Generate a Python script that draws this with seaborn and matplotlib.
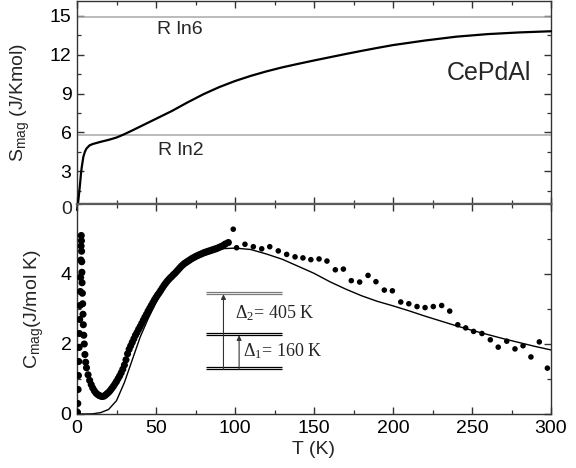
import numpy as np
import pandas as pd
import matplotlib
matplotlib.use("Agg")
import matplotlib.pyplot as plt
import seaborn as sns
from matplotlib.ticker import MultipleLocator
from matplotlib.transforms import blended_transform_factory

# ---------------- data ----------------
# magnetic entropy S_mag(T)
T_S = [0, 0.5, 1, 1.5, 2, 2.5, 3, 4, 5, 6, 8, 10, 15, 20, 25, 30, 35, 40, 45, 50,
       55, 60, 70, 80, 90, 100, 110, 120, 130, 140, 150, 160, 170, 180, 190, 200,
       220, 240, 260, 280, 300]
S_mag = [0, 0.4, 0.9, 1.5, 2.1, 2.8, 3.3, 4.1, 4.5, 4.75, 5.0, 5.1, 5.27, 5.42, 5.6,
         5.86, 6.15, 6.45, 6.75, 7.05, 7.35, 7.65, 8.32, 8.95, 9.5, 9.97, 10.37,
         10.72, 11.03, 11.3, 11.56, 11.81, 12.06, 12.3, 12.53, 12.75, 13.1, 13.4,
         13.6, 13.73, 13.82]

# magnetic specific heat, dense low-T measurement
T_C_dense = [0.3, 0.5, 0.7, 0.9, 1.1, 1.3, 1.5, 1.7, 1.9, 2.1, 2.3, 2.5, 2.6, 2.7,
             2.8, 2.9, 3.0, 3.1, 3.2, 3.4, 3.6, 3.8, 4.0, 4.3, 4.6, 5.0, 5.5, 6, 7,
             8, 9, 10, 11, 12, 13, 14, 15, 16, 17, 18, 19, 20, 21, 22, 23, 24, 25,
             26, 27, 28, 29, 30, 31, 32, 33, 34, 35, 36, 37, 38, 39, 40, 41, 42, 43,
             44, 45, 46, 47, 48, 49, 50, 51, 52, 53, 54, 55, 56, 57, 58, 59, 60, 61,
             62, 63, 64, 65, 66, 67, 68, 69, 70, 71, 72, 73, 74, 75, 76, 77, 78, 79,
             80, 81, 82, 83, 84, 85, 86, 87, 88, 89, 90, 91, 92, 93, 94, 95.8]
C_dense = [0.05, 0.3, 0.7, 1.1, 1.5, 1.9, 2.3, 2.7, 3.1, 3.5, 3.9, 4.4, 4.8, 5.1,
           4.95, 4.65, 4.35, 4.05, 3.75, 3.45, 3.15, 2.85, 2.55, 2.25, 2.0, 1.7, 1.48,
           1.32, 1.12, 0.96, 0.84, 0.74, 0.66, 0.6, 0.56, 0.53, 0.51, 0.5, 0.51, 0.54,
           0.58, 0.62, 0.67, 0.73, 0.79, 0.86, 0.93, 1.01, 1.09, 1.18, 1.28, 1.4, 1.55,
           1.72, 1.85, 1.95, 2.05, 2.15, 2.25, 2.33, 2.42, 2.5, 2.59, 2.68, 2.77, 2.85,
           2.94, 3.02, 3.1, 3.18, 3.26, 3.33, 3.4, 3.46, 3.53, 3.6, 3.67, 3.73, 3.79,
           3.84, 3.89, 3.93, 3.98, 4.02, 4.07, 4.12, 4.17, 4.22, 4.26, 4.3, 4.33, 4.36,
           4.39, 4.42, 4.45, 4.47, 4.5, 4.52, 4.54, 4.56, 4.58, 4.6, 4.62, 4.63, 4.65,
           4.66, 4.68, 4.69, 4.71, 4.72, 4.74, 4.76, 4.78, 4.8, 4.83, 4.86, 4.9]

# magnetic specific heat, high-T points
T_C_sparse = [98.9, 101, 106.3, 111.6, 116.9, 122, 127.4, 132.7, 138, 143, 148,
              153.2, 158.2, 163.5, 168.6, 173.6, 178.9, 184.2, 189.2, 194.5, 199.6,
              204.9, 210, 215.2, 220.3, 225.5, 230.8, 235.9, 241, 246, 251, 256.3,
              261.6, 266.6, 272, 277.2, 282.3, 287.3, 292.6, 297.7]
C_sparse = [5.28, 4.75, 4.85, 4.78, 4.72, 4.78, 4.66, 4.56, 4.49, 4.46, 4.41, 4.43,
            4.37, 4.12, 4.14, 3.81, 3.77, 3.96, 3.78, 3.54, 3.52, 3.2, 3.15, 3.07,
            3.04, 3.07, 3.1, 2.94, 2.55, 2.46, 2.36, 2.3, 2.12, 1.91, 2.08, 1.86,
            1.95, 1.63, 2.06, 1.31]

# crystal-field (Schottky) curve
T_fit = [0, 5, 10, 15, 20, 25, 30, 35, 40, 45, 50, 55, 60, 65, 70, 80, 90, 100,
         110, 120, 130, 140, 150, 160, 170, 180, 190, 200, 210, 220, 230, 240, 250,
         260, 270, 280, 290, 300]
C_fit = [0, 0, 0.005, 0.04, 0.13, 0.38, 0.9, 1.55, 2.2, 2.72, 3.18, 3.58, 3.92,
         4.18, 4.38, 4.6, 4.72, 4.74, 4.7, 4.57, 4.42, 4.22, 4.02, 3.78, 3.57, 3.38,
         3.22, 3.09, 2.95, 2.8, 2.66, 2.52, 2.39, 2.27, 2.15, 2.04, 1.93, 1.83]

R_LN6 = 14.90
R_LN2 = 5.76
x_ticks = [0, 50, 100, 150, 200, 250, 300]
s_ticks = [3, 6, 9, 12, 15]
c_ticks = [0, 2, 4]

df_S = pd.DataFrame({"T": T_S, "S": S_mag})
df_dense = pd.DataFrame({"T": T_C_dense, "C": C_dense})
df_sparse = pd.DataFrame({"T": T_C_sparse, "C": C_sparse})
df_fit = pd.DataFrame({"T": T_fit, "C": C_fit})

# ---------------- style ----------------
sns.set_theme(style="ticks")
plt.rcParams["font.family"] = ["Liberation Sans", "DejaVu Sans"]
plt.rcParams["mathtext.default"] = "regular"

W, H = 576, 468
fig = plt.figure(figsize=(W / 100, H / 100), dpi=100)
L, R = 77, 551
ax1 = fig.add_axes([L / W, 1 - 204 / H, (R - L) / W, 203 / H])
ax2 = fig.add_axes([L / W, 1 - 414 / H, (R - L) / W, 210 / H])

spine_col = "#333333"
for ax in (ax1, ax2):
    for sp in ax.spines.values():
        sp.set_visible(True)
        sp.set_color(spine_col)
        sp.set_linewidth(1.0)
    ax.set_xlim(0, 300)
    ax.xaxis.set_major_locator(MultipleLocator(50))
    ax.xaxis.set_minor_locator(MultipleLocator(25))
    ax.tick_params(which="both", direction="in", top=True, right=True,
                   bottom=True, left=True, color=spine_col,
                   labelcolor="black", labelsize=14, pad=4)
    ax.tick_params(which="major", length=5, width=1.0)
    ax.tick_params(which="minor", length=3, width=0.9)
    ax.set_facecolor("white")

ax1.spines["bottom"].set_color("#5a5a5a")
ax1.spines["bottom"].set_linewidth(1.6)
ax2.spines["top"].set_color("#5a5a5a")
ax2.spines["top"].set_linewidth(1.6)

# ---------------- top panel: entropy ----------------
ax1.axhline(R_LN6, color="#a8a8a8", lw=1.1, zorder=1)
ax1.axhline(R_LN2, color="#a8a8a8", lw=1.1, zorder=1)
sns.lineplot(data=df_S, x="T", y="S", ax=ax1, color="black", lw=1.6,
             errorbar=None, sort=False, clip_on=False, zorder=3)
ax1.set_ylim(0.46, 16.16)
ax1.set_yticks(s_ticks)
ax1.yaxis.set_minor_locator(MultipleLocator(1.5))
ax1.tick_params(axis="x", labelbottom=False)
ax1.set_xlabel("")
ax1.set_ylabel("S$_{mag}$ (J/Kmol)", fontsize=14)
ax1.yaxis.set_label_coords(-0.095, 0.5)
tr = blended_transform_factory(ax1.transAxes, ax1.transData)
ax1.text(-0.011, 0, "0", transform=tr, ha="right", va="center", fontsize=14,
         clip_on=False)
ax1.text(50.5, 13.95, "R ln6", fontsize=14, ha="left", va="center")
ax1.text(51.5, 4.6, "R ln2", fontsize=14, ha="left", va="center")
ax1.text(261, 10.6, "CePdAl", fontsize=18, ha="center", va="center")

# ---------------- bottom panel: specific heat ----------------
sns.lineplot(data=df_fit, x="T", y="C", ax=ax2, color="black", lw=1.0,
             errorbar=None, sort=False, zorder=2)
sns.scatterplot(data=df_dense, x="T", y="C", ax=ax2, color="black", s=26,
                edgecolor="none", zorder=3)
sns.scatterplot(data=df_sparse, x="T", y="C", ax=ax2, color="black", s=16,
                edgecolor="none", zorder=3)
ax2.set_ylim(0, 6.0)
ax2.set_yticks(c_ticks)
ax2.yaxis.set_minor_locator(MultipleLocator(1))
ax2.set_xticks(x_ticks)
ax2.xaxis.set_minor_locator(MultipleLocator(25))
ax2.set_xlabel("T (K)", fontsize=14, labelpad=3)
ax2.set_ylabel("C$_{mag}$(J/mol K)", fontsize=14)
ax2.yaxis.set_label_coords(-0.065, 0.5)

# energy-level scheme inset (axes fraction)
lx0, lx1 = 0.272, 0.432
lev_top, lev_mid, lev_bot = 0.575, 0.380, 0.218
gap = 0.010
for y, col in ((lev_top, "#7a7a7a"), (lev_mid, "black"), (lev_bot, "black")):
    for dy in (gap / 2, -gap / 2):
        ax2.plot([lx0, lx1], [y + dy, y + dy], transform=ax2.transAxes,
                 color=col, lw=0.9, solid_capstyle="butt")
arrow_kw = dict(arrowstyle="-|>", lw=0.8, color="#333333", mutation_scale=7,
                shrinkA=0, shrinkB=0)
ax2.annotate("", xy=(0.309, lev_top - gap / 2), xytext=(0.309, lev_bot - gap / 2),
             xycoords="axes fraction", textcoords="axes fraction",
             arrowprops=arrow_kw)
ax2.annotate("", xy=(0.342, lev_mid - gap / 2), xytext=(0.342, lev_bot - gap / 2),
             xycoords="axes fraction", textcoords="axes fraction",
             arrowprops=arrow_kw)
ax2.text(0.333, 0.48, r"$\Delta_2$= 405 K", transform=ax2.transAxes,
         family="Liberation Serif", fontsize=13, ha="left", va="center")
ax2.text(0.350, 0.30, r"$\Delta_1$= 160 K", transform=ax2.transAxes,
         family="Liberation Serif", fontsize=13, ha="left", va="center")

fig.savefig("out.png", dpi=100, facecolor="white")
